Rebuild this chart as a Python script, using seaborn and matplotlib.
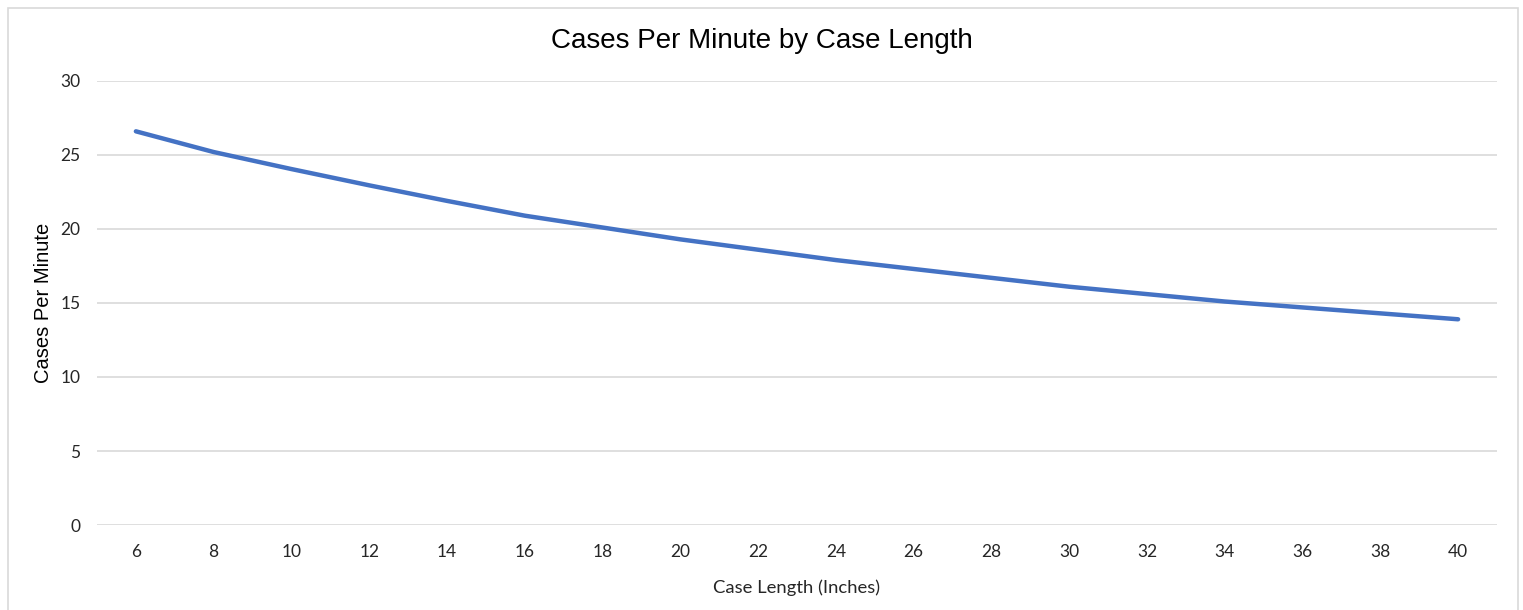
import matplotlib
matplotlib.use("Agg")
import matplotlib.pyplot as plt
from matplotlib.patches import Rectangle
import seaborn as sns
import pandas as pd

case_length = [6, 8, 10, 12, 14, 16, 18, 20, 22, 24, 26, 28, 30, 32, 34, 36, 38, 40]
cases_per_minute = [26.6, 25.2, 24.05, 22.95, 21.9, 20.9, 20.1, 19.3, 18.6, 17.9,
                    17.3, 16.7, 16.1, 15.6, 15.1, 14.7, 14.3, 13.9]
y_ticks = [0, 5, 10, 15, 20, 25, 30]

df = pd.DataFrame({"Case Length": case_length, "Cases Per Minute": cases_per_minute})

sns.set_theme(style="white")
plt.rcParams['font.family'] = ['Liberation Sans', 'DejaVu Sans']

fig = plt.figure(figsize=(15.23, 6.10), dpi=100)
ax = fig.add_axes([97 / 1523, 85 / 610, 1400 / 1523, 444 / 610])

sns.lineplot(data=df, x="Case Length", y="Cases Per Minute", ax=ax,
             color="#4472C4", linewidth=3.2, solid_capstyle="round")

ax.set_xlim(case_length[0] - 1, case_length[-1] + 1)
ax.set_ylim(0, 30)
ax.set_xticks(case_length)
ax.set_xticklabels([str(v) for v in case_length], family="Lato", fontsize=12.5, color="#262626")
ax.set_yticks(y_ticks)
ax.set_yticklabels([str(v) for v in y_ticks], family="Lato", fontsize=12.5, color="#262626")
ax.tick_params(axis="x", length=0, pad=14)
ax.tick_params(axis="y", length=0, pad=12)
ax.grid(axis="y", color="#D9D9D9", linewidth=1.2)
ax.grid(axis="x", visible=False)
ax.set_axisbelow(True)
for s in ax.spines.values():
    s.set_visible(False)

ax.set_xlabel("Case Length (Inches)", family="Lato", fontsize=13.3, color="#262626", labelpad=14)
ax.set_ylabel("Cases Per Minute", fontsize=14.5, color="black", labelpad=5)
fig.text(0.5, 1 - 41 / 610, "Cases Per Minute by Case Length", ha="center", va="center",
         fontsize=20, color="black")

fig.patches.append(Rectangle((8 / 1523, -0.05), 1510 / 1523, 1.05 - 8 / 610,
                             transform=fig.transFigure, fill=False,
                             edgecolor="#D9D9D9", linewidth=1.2))

fig.savefig("out.png", dpi=100)
